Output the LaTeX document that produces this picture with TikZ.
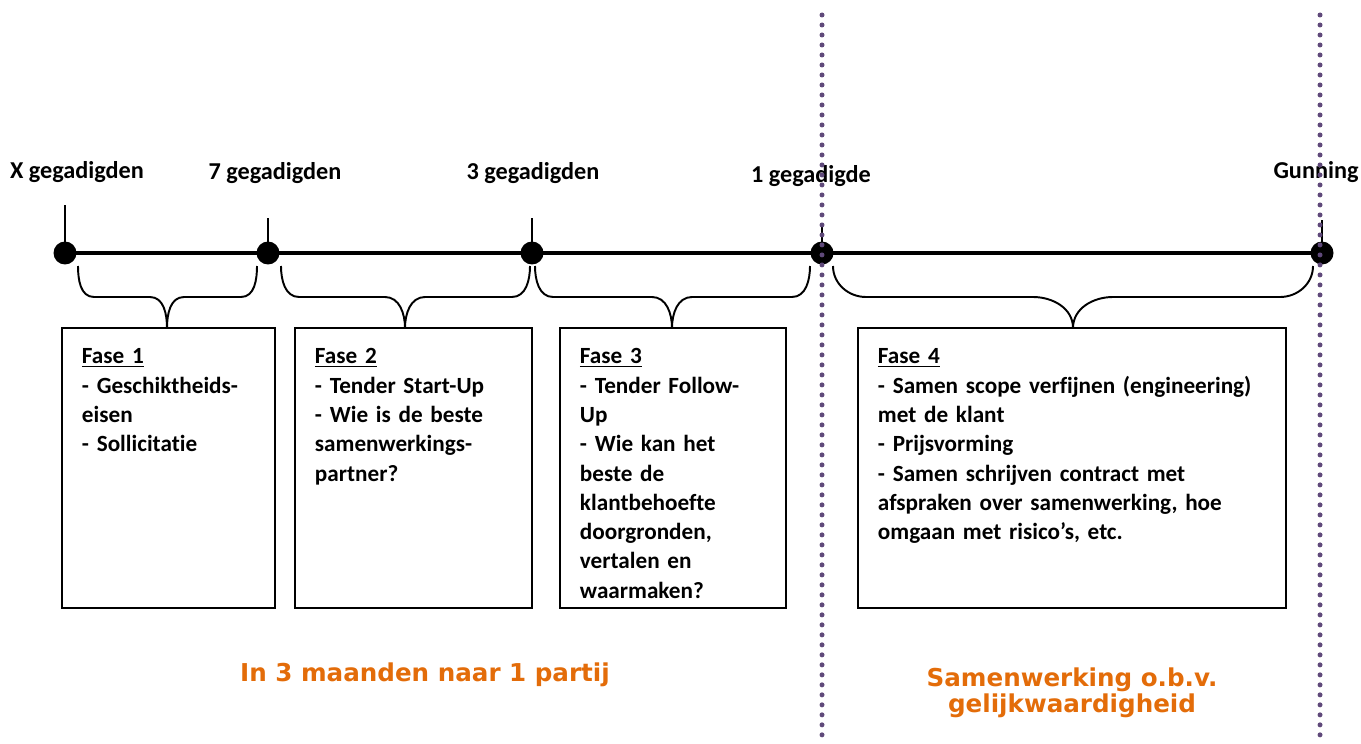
\documentclass[tikz,border=0pt]{standalone}
\usepackage{fontspec}
\usetikzlibrary{positioning}
\usepackage{xcolor}
\newfontfamily\calibri[Ligatures=NoCommon]{Carlito}
\newfontfamily\verdana{DejaVu Sans}
\definecolor{tenderorange}{HTML}{E36C09}
\definecolor{tenderpurple}{HTML}{5F497A}

\begin{document}
\begin{tikzpicture}[
    x=0.02cm, y=-0.02cm,
    milestone/.style={
        circle,
        fill=black,
        minimum size=0.46cm,
        inner sep=0pt,
    },
    headcount/.style={
        font=\calibri\bfseries\fontsize{13.8pt}{15pt}\selectfont,
    },
    phase/.style={
        draw,
        line width=1.1pt,
        anchor=north west,
        align=left,
        inner xsep=0.4cm,
        inner ysep=0.44cm,
        text height=0.28cm,
        text depth=4.44cm,
        font=\calibri\bfseries\fontsize{13.2pt}{16.67pt}\selectfont,
    },
    bracket/.style={line width=1.1pt},
    divider/.style={
        tenderpurple,
        line width=0.1cm,
        line cap=round,
        dash pattern=on 0pt off 0.2cm,
    },
    summary/.style={
        text=tenderorange,
        font=\verdana\bfseries\fontsize{14pt}{14.8pt}\selectfont,
        align=center,
    },
]
\useasboundingbox (0,0) rectangle (1361,743);

% timeline
\node[milestone] (m0) at (65,253) {};
\node[milestone] (m1) at (268,253) {};
\node[milestone] (m2) at (532,253) {};
\node[milestone] (m3) at (822,253) {};
\node[milestone] (m4) at (1322,253) {};
\draw[line width=1.8pt] (m0.center) -- (m4.center);

\draw[line width=0.85pt] (m0.center) -- ++(0,-48);
\draw[line width=0.85pt] (m1.center) -- ++(0,-35);
\draw[line width=0.85pt] (m2.center) -- ++(0,-35);
\draw[line width=0.85pt] (m3.center) -- ++(0,-28);
\draw[line width=0.85pt] (m4.center) -- ++(0,-33);

\node[headcount] (c0) at (77,172) {X gegadigden};
\node[headcount] (c1) at (275,173) {7 gegadigden};
\node[headcount] (c2) at (533,173) {3 gegadigden};
\node[headcount] (c3) at (811,176) {1 gegadigde};
\node[headcount] (c4) at (1316,172) {Gunning};

% braces
\draw[bracket] (78,266) to[out=-90,in=180] (94,297) -- (150,297)
    to[out=0,in=90] (167,328) to[out=90,in=180] (184,297) -- (241,297)
    to[out=0,in=-90] (257,266);
\draw[bracket] (281,266) to[out=-90,in=180] (299,297) -- (385,297)
    to[out=0,in=90] (405,328) to[out=90,in=180] (425,297) -- (512,297)
    to[out=0,in=-90] (530,266);
\draw[bracket] (535,266) to[out=-90,in=180] (553,297) -- (652,297)
    to[out=0,in=90] (672,328) to[out=90,in=180] (692,297) -- (792,297)
    to[out=0,in=-90] (810,266);
\draw[bracket] (833,266) to[out=-90,in=180] (866,297) -- (1033,297)
    to[out=0,in=90] (1073,328) to[out=90,in=180] (1113,297) -- (1280,297)
    to[out=0,in=-90] (1313,266);

% phases
\node[phase, text width=3.46cm] (f1) at (61,327)
    {\underline{Fase 1}\\- Geschiktheids-\\eisen\\- Sollicitatie};
\node[phase, text width=3.94cm] (f2) at (294,327)
    {\underline{Fase 2}\\- Tender Start-Up\\- Wie is de beste\\samenwerkings-\\partner?};
\node[phase, text width=3.72cm] (f3) at (559,327)
    {\underline{Fase 3}\\- Tender Follow-\\Up\\- Wie kan het\\beste de\\klantbehoefte\\doorgronden,\\vertalen en\\waarmaken?};
\node[phase, text width=7.76cm] (f4) at (857,327)
    {\underline{Fase 4}\\- Samen scope verfijnen (engineering)\\met de klant\\- Prijsvorming\\- Samen schrijven contract met\\afspraken over samenwerking, hoe\\omgaan met risico’s, etc.};

\node[summary] (s1) at (425,675) {In 3 maanden naar 1 partij};
\node[summary] (s2) at (1072,693) {Samenwerking o.b.v.\\gelijkwaardigheid};

% dotted dividers
\draw[divider] (822,15) -- (822,743);
\draw[divider] (1320,15) -- (1320,743);

\end{tikzpicture}
\end{document}
